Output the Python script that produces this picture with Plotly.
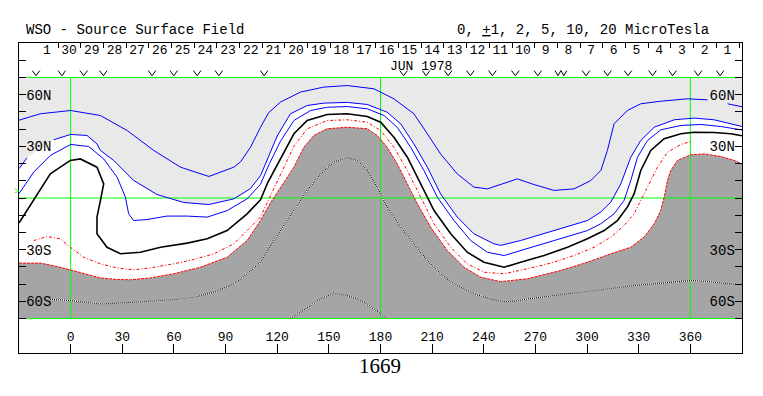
import plotly.graph_objects as go

# ---------------- data ----------------
lon_ticks = [0, 30, 60, 90, 120, 150, 180, 210, 240, 270, 300, 330, 360]
lat_ticks = [-60, -30, 30, 60]
lat_tick_text = ["60S", "30S", "30N", "60N"]
lat_minor = [-80, -70, -50, -40, -20, -10, 0, 10, 20, 40, 50, 70, 80]

# day-boundary ticks (Carrington longitude) and day labels (JUN 1978, time runs right->left)
day_tick_lons = [-20.5, -7.3, 5.9, 19.1, 32.2, 45.4, 58.6, 71.8, 85.0, 98.2, 111.4, 124.5,
                 137.7, 150.9, 164.1, 177.3, 190.5, 203.7, 216.8, 230.0, 243.2, 256.4, 269.6,
                 282.8, 296.0, 309.1, 322.3, 335.5, 348.7, 361.9, 375.1, 388.3]
day_labels = ["1", "30", "29", "28", "27", "26", "25", "24", "23", "22", "21", "20", "19",
              "18", "17", "16", "15", "14", "13", "12", "11", "10", "9", "8", "7", "6", "5",
              "4", "3", "2", "1", ""]
day_label_offset = 6.6  # labels sit half a day to the right of their tick

# observation markers (v = single, w = double)
obs_lons = [-20.1, -5.1, 7.6, 19.0, 47.3, 59.9, 73.5, 86.1, 112.4, 193.4, 206.5, 219.3,
            232.2, 245.0, 258.3, 271.4, 284.8, 299.4, 311.9, 323.8, 338.0, 349.7, 364.5, 377.3]
obs_marks = ["v"] * 16 + ["w"] + ["v"] * 7

# contours (longitude, latitude); None = gap where a label sits
c_p5_lon = [-30, -17.6, 0.0, 17.3, 32.8, 48.3, 63.8, 80.3, 94.8, 98.7, 104.5, 110.3, 115.0, 121.9,
            133.5, 147.1, 160.7, 176.2, 187.8, 199.4, 207.2, 214.9, 224.6, 234.3, 242.1, 249.8,
            259.5, 269.2, 280.8, 292.4, 302.1, 308.0, 311.8, 315.7, 323.4, 331.2, 342.8, 358.3,
            370.0, None, 381.6, 390]
c_p5_lat = [45.2, 48.9, 50.8, 47.9, 39.2, 27.6, 17.9, 12.5, 17.9, 21.0, 29.5, 41.1, 49.5, 55.7,
            61.5, 64.4, 65.3, 63.4, 57.6, 48.9, 37.3, 25.6, 14.0, 6.3, 5.3, 7.8,
            11.1, 7.8, 4.4, 5.3, 10.1, 16.0, 27.6, 43.1, 50.8, 54.7, 56.2, 57.6,
            57.0, None, 54.7, 53.0]

c_p2_lon = [-30, -25.4, None, -9.9, 0.0, 9.5, 15.3, 17.3, 25.0, 36.6, 50.2, 65.7, 80.3, 94.8,
            104.5, 110.3, 115.0, 120.0, 127.7, 137.4, 147.1, 160.7, 172.3, 183.9, 191.7, 199.4,
            207.2, 214.9, 224.6, 234.3, 245.9, 249.8, 261.4, 273.1, 288.6, 300.2, 307.9, 313.8,
            319.6, 325.4, 331.2, 339.0, 350.6, 362.2, 373.8, 390]
c_p2_lat = [17.0, 23.3, None, 33.8, 36.9, 36.3, 31.4, 27.6, 21.8, 10.2, 2.0, -2.6, -3.8, -0.5,
            5.5, 13.0, 24.0, 36.0, 48.9, 53.7, 55.1, 55.5, 54.3, 49.8, 43.1, 31.4,
            17.9, 2.4, -11.1, -20.8, -26.6, -27.5, -24.7, -21.2, -16.9, -13.1, -8.2, -2.4,
            8.2, 23.7, 33.4, 41.1, 45.4, 46.4, 45.4, 41.5]

c_p1_lon = [-30, -21.5, -11.8, 0.0, 10.5, 19.2, 27.0, 31.8, 33.7, 36.6, 44.4, 56.0, 67.7, 79.3,
            90.9, 102.5, 110.3, 115.5, 121.9, 129.7, 139.4, 149.0, 160.7, 172.3, 182.0, 189.7,
            197.5, 205.2, 213.0, 222.7, 232.4, 242.1, 251.8, 261.4, 275.0, 288.6, 300.2, 307.9,
            315.7, 321.5, 325.4, 329.3, 335.1, 342.8, 354.5, 366.1, 377.7, 390]
c_p1_lat = [2.5, 15.0, 24.7, 31.1, 29.9, 22.7, 12.1, 0.5, -9.2, -13.1, -12.5, -10.5, -10.5, -11.1,
            -7.3, -0.5, 8.0, 20.0, 33.0, 45.0, 50.8, 52.7, 53.1, 51.8, 47.9, 41.1,
            29.5, 16.0, 0.5, -13.1, -24.7, -31.5, -33.4, -30.5, -26.6, -22.7, -18.9, -15.0,
            -9.2, -1.4, 10.2, 23.7, 33.4, 39.6, 42.1, 42.7, 41.5, 39.5]

c_0_lon = [-30, -21.5, -11.8, -0.2, 5.6, 15.3, 19.2, 17.3, 15.3, 15.3, 21.1, 28.9, 40.5, 52.2,
           67.7, 79.3, 90.9, 102.5, 110.3, 114.5, 121.9, 129.7, 137.4, 149.0, 160.7, 172.3,
           180.1, 187.8, 195.6, 203.3, 211.1, 220.8, 230.4, 240.1, 251.8, 261.4, 275.0, 288.6,
           300.2, 309.9, 317.6, 323.4, 327.3, 331.2, 337.0, 344.8, 354.5, 362.2, 373.8, 383.5, 390]
c_0_lat = [-14.5, -1.5, 14.0, 21.8, 22.7, 17.9, 8.2, -1.5, -11.1, -20.8, -28.6, -32.4, -31.5, -28.6,
           -26.2, -23.7, -18.9, -9.2, -1.0, 9.0, 22.5, 37.3, 45.0, 48.5, 48.9, 47.3,
           44.0, 35.3, 23.7, 8.2, -7.3, -20.8, -31.5, -37.3, -40.2, -37.3, -33.4, -28.6,
           -23.7, -18.9, -13.1, -5.3, 2.4, 16.0, 27.6, 34.4, 37.3, 38.2, 38.0, 37.3, 36.1]

c_m1_lon = [-21.5, -13.7, -6.0, -0.2, 7.6, 17.3, 27.0, 36.6, 46.3, 59.9, 71.5, 83.2, 94.8, 104.5,
            110.3, 114.5, 121.9, 129.7, 137.4, 149.0, 160.7, 172.3, 180.1, 187.8, 195.6, 203.3,
            211.1, 220.8, 230.4, 240.1, 251.8, 265.3, 278.9, 292.4, 304.1, 313.8, 321.5, 327.3,
            333.1, 337.0, 340.9, 346.7, 354.5, 360.3]
c_m1_lat = [-24.7, -22.4, -23.7, -28.6, -34.4, -38.2, -40.6, -41.7, -40.6, -38.2, -35.7, -32.4, -26.6, -16.9,
            -11.1, -2.0, 14.0, 30.0, 40.2, 45.0, 45.4, 44.0, 39.2, 29.5, 16.0, 0.5,
            -15.0, -28.6, -38.2, -43.1, -44.0, -41.1, -37.8, -33.4, -28.6, -22.7, -16.0, -9.2,
            2.4, 10.1, 17.9, 26.6, 31.1, 32.8]

c_m2_lon = [-30, -17.6, -6.0, 0.0, 7.6, 17.3, 27.0, 34.7, 46.3, 59.9, 75.4, 90.9, 102.5, 110.3,
            116.0, 121.9, 129.7, 135.5, 141.3, 149.0, 160.7, 172.3, 178.1, 183.9, 189.7, 195.6,
            201.4, 209.1, 218.8, 228.5, 238.2, 249.8, 265.3, 284.7, 300.2, 313.8, 325.4, 333.1,
            339.0, 342.8, 344.8, 346.7, 348.6, 352.5, 360.3, 368.0, 377.7, 385.5, 390]
c_m2_lat = [-37.8, -37.8, -40.2, -41.7, -44.0, -46.4, -47.3, -47.5, -46.4, -44.0, -40.2, -34.4, -24.7, -13.1,
            -3.0, 6.0, 17.9, 29.5, 36.3, 40.2, 41.1, 40.2, 36.3, 29.5, 19.8, 8.2,
            -3.4, -16.9, -30.5, -40.2, -46.0, -48.6, -46.9, -42.1, -37.3, -32.4, -28.6, -22.7,
            -15.0, -7.3, 0.5, 10.1, 16.0, 21.8, 25.1, 25.6, 24.1, 21.8, 19.8]

c_m5_lon = [-12.0, 0.0, 7.6, 17.3, 27.0, 36.6, 48.3, 59.9, 71.5, 83.2, 94.8, 102.5, 110.3, 114.2,
            121.9, 129.7, 137.4, 145.2, 152.9, 160.7, 166.5, 172.3, 178.1, 183.9, 191.7, 199.4,
            207.2, 214.9, 222.7, 234.3, 245.9, 252.0, 258.0, 265.3, 280.8, 296.3, 311.8, 327.3,
            342.8, 354.5, 360.3, 369.9, 381.6, 390]
c_m5_lat = [-58.8, -59.5, -60.5, -61.5, -61.1, -60.5, -59.9, -59.1, -57.6, -54.7, -49.9, -44.0, -37.3, -30.5,
            -18.9, -7.3, 4.4, 14.0, 20.8, 23.3, 21.8, 16.0, 6.3, -5.3, -16.9, -26.6,
            -36.3, -44.0, -49.8, -55.7, -59.1, -60.2, -60.0, -58.6, -56.6, -54.7, -52.8, -50.8,
            -49.5, -48.3, -47.9, -48.5, -49.8, -50.2]

c_m10_lon = [127.7, 137.4, 145.2, 152.9, 160.7, 168.4, 176.2, 183.9]
c_m10_lat = [-70.0, -63.4, -58.6, -55.3, -56.6, -59.5, -64.4, -70.0]

# frame / grid structure
lon_min, lon_max = -30, 390
lat_min, lat_max = -70, 70
grid_meridians = [0, 180, 360]
grid_parallels = [70, 0, -70]

# ---------------- styles ----------------
MONO = "Liberation Mono"
BLUE = "#0000FF"
RED = "#FF0000"
GREEN = "#00FF00"
LIGHT = "#E9E9E9"
DARK = "#A5A5A5"

# the page body has an 8px default margin; the figure is shrunk by that much
PAGE_OFF = 8
W, H = 763 - PAGE_OFF, 396 - PAGE_OFF
ML, MR, MT, MB = 19 - PAGE_OFF, 21, 43 - PAGE_OFF, 43
PW, PH = W - ML - MR, H - MT - MB  # 723 x 310 plot area


def px_x(px):  # reference pixel x -> paper x
    return (px - 19) / PW


def px_y(py):  # reference pixel y -> paper y
    return (353 - py) / PH


def solid(lons, lats):
    pts = [(a, b) for a, b in zip(lons, lats) if a is not None]
    return [p[0] for p in pts], [p[1] for p in pts]


fig = go.Figure()

# light-gray area: north of the +2 contour
lx, ly = solid(c_p2_lon, c_p2_lat)
fig.add_trace(go.Scatter(x=lx + [lon_max, lon_min], y=ly + [lat_max, lat_max],
                         fill="toself", fillcolor=LIGHT, mode="none", hoverinfo="skip"))
# dark-gray area: south of the -2 contour
dx, dy = solid(c_m2_lon, c_m2_lat)
fig.add_trace(go.Scatter(x=dx + [lon_max, lon_min], y=dy + [lat_min, lat_min],
                         fill="toself", fillcolor=DARK, mode="none", hoverinfo="skip"))

# green reference lines
gx, gy = [], []
for m in grid_meridians:
    gx += [m, m, None]
    gy += [lat_min, lat_max, None]
for p in grid_parallels:
    if p == 0:
        gx += [lon_min, lon_max, None]
    else:
        gx += [lon_min + 4.5, lon_max - 3.5, None]
    gy += [p, p, None]
fig.add_trace(go.Scatter(x=gx, y=gy, mode="lines", line=dict(color=GREEN, width=1),
                         hoverinfo="skip"))

# positive contours (blue)
for lo, la in [(c_p5_lon, c_p5_lat), (c_p2_lon, c_p2_lat), (c_p1_lon, c_p1_lat)]:
    fig.add_trace(go.Scatter(x=lo, y=la, mode="lines", line=dict(color=BLUE, width=1),
                             connectgaps=False, hoverinfo="skip"))
# neutral line
fig.add_trace(go.Scatter(x=c_0_lon, y=c_0_lat, mode="lines",
                         line=dict(color="black", width=1.6), hoverinfo="skip"))
# negative contours (red, dotted)
fig.add_trace(go.Scatter(x=c_m1_lon, y=c_m1_lat, mode="lines",
                         line=dict(color=RED, width=1, dash="3px,2px,1px,2px"), hoverinfo="skip"))
fig.add_trace(go.Scatter(x=c_m2_lon, y=c_m2_lat, mode="lines",
                         line=dict(color=RED, width=1, dash="3px,1px"), hoverinfo="skip"))
# strong negative contours (black/white dotted inside dark area)
for lo, la in [(c_m5_lon, c_m5_lat), (c_m10_lon, c_m10_lat)]:
    fig.add_trace(go.Scatter(x=lo, y=la, mode="lines", line=dict(color="white", width=1.2),
                             hoverinfo="skip"))
    fig.add_trace(go.Scatter(x=lo, y=la, mode="lines",
                             line=dict(color="black", width=1.2, dash="1px,1px"), hoverinfo="skip"))

# observation markers drawn as small v strokes at their longitudes
V_TOP, V_BOT = 74.0, 71.0
vx, vy = [], []
for lon, mk in zip(obs_lons, obs_marks):
    if mk == "w":
        vx += [lon - 3.4, lon - 1.7, lon, lon + 1.7, lon + 3.4, None]
        vy += [V_TOP, V_BOT, V_TOP, V_BOT, V_TOP, None]
    else:
        vx += [lon - 2.2, lon, lon + 2.2, None]
        vy += [V_TOP, V_BOT, V_TOP, None]
fig.add_trace(go.Scatter(x=vx, y=vy, mode="lines", line=dict(color="black", width=1),
                         hoverinfo="skip"))

# helpers so the right-hand and top axes are drawn
fig.add_trace(go.Scatter(x=[lon_min], y=[0], yaxis="y2", mode="markers",
                         marker=dict(opacity=0), hoverinfo="skip"))
fig.add_trace(go.Scatter(x=[lon_min], y=[0], xaxis="x2", mode="markers",
                         marker=dict(opacity=0), hoverinfo="skip"))

tickfont = dict(family=MONO, size=14, color="black")
yaxis_common = dict(
    range=[-90, 90], tickmode="array", tickvals=lat_ticks, ticktext=lat_tick_text,
    ticks="inside", ticklen=7, tickcolor="black", tickwidth=1,
    ticklabelposition="inside", tickfont=tickfont,
    minor=dict(tickmode="array", tickvals=lat_minor, ticks="inside", ticklen=7,
               tickcolor="black", tickwidth=1, showgrid=False),
    showgrid=False, zeroline=False, fixedrange=True,
)

# the first day label is hidden by plotly at the axis end, so it is written as an annotation
top_tick_text = [""] + day_labels[1:]

fig.update_layout(
    width=W, height=H,
    margin=dict(l=ML, r=MR, t=MT, b=MB, autoexpand=False),
    paper_bgcolor="white", plot_bgcolor="white",
    showlegend=False, hovermode=False,
    xaxis=dict(range=[lon_min, lon_max], tickmode="array", tickvals=lon_ticks,
               ticktext=[str(v) for v in lon_ticks],
               ticks="inside", ticklen=9, tickcolor="black", tickwidth=1,
               ticklabelposition="inside", tickfont=dict(family=MONO, size=13, color="black"),
               showline=True, linecolor="black", linewidth=1, mirror=True,
               showgrid=False, zeroline=False, fixedrange=True),
    xaxis2=dict(range=[lon_min, lon_max], overlaying="x", side="top", anchor="y",
                tickmode="array", tickvals=day_tick_lons, ticktext=top_tick_text,
                ticks="inside", ticklen=5, tickcolor="black", tickwidth=1,
                ticklabelposition="inside", ticklabelshift=11, ticklabelstandoff=-3,
                ticklabeloverflow="allow",
                tickfont=dict(family=MONO, size=13, color="black"),
                showline=False, showgrid=False, zeroline=False, fixedrange=True),
    yaxis=dict(**yaxis_common, showline=True, linecolor="black", linewidth=1, mirror=True),
    yaxis2=dict(**yaxis_common, overlaying="y", side="right", anchor="x", showline=False),
    annotations=[
        dict(text="WSO - Source Surface Field", xref="paper", yref="paper",
             x=px_x(24), y=px_y(30), xanchor="left", yanchor="middle",
             showarrow=False, font=dict(family=MONO, size=14, color="black")),
        dict(text="0, <u>+</u>1, 2, 5, 10, 20 MicroTesla", xref="paper", yref="paper",
             x=px_x(711), y=px_y(30), xanchor="right", yanchor="middle",
             showarrow=False, font=dict(family=MONO, size=14, color="black")),
        dict(text=day_labels[0], xref="x", yref="paper",
             x=day_tick_lons[0] + day_label_offset, y=px_y(50),
             xanchor="center", yanchor="middle", showarrow=False,
             font=dict(family=MONO, size=13, color="black")),
        dict(text="JUN 1978", xref="x", yref="y", x=203.7, y=76.4,
             xanchor="center", yanchor="middle", showarrow=False,
             font=dict(family=MONO, size=13, color="black")),
        dict(text="1669", xref="paper", yref="paper", x=px_x(380),
             y=px_y(366), xanchor="center", yanchor="middle", showarrow=False,
             font=dict(family="Liberation Serif", size=21, color="black")),
        dict(text=">", xref="paper", yref="paper", x=px_x(16.5),
             y=px_y(192), xanchor="center", yanchor="middle", showarrow=False,
             font=dict(family=MONO, size=9, color=GREEN)),
    ],
)

fig.write_html("out.html")
